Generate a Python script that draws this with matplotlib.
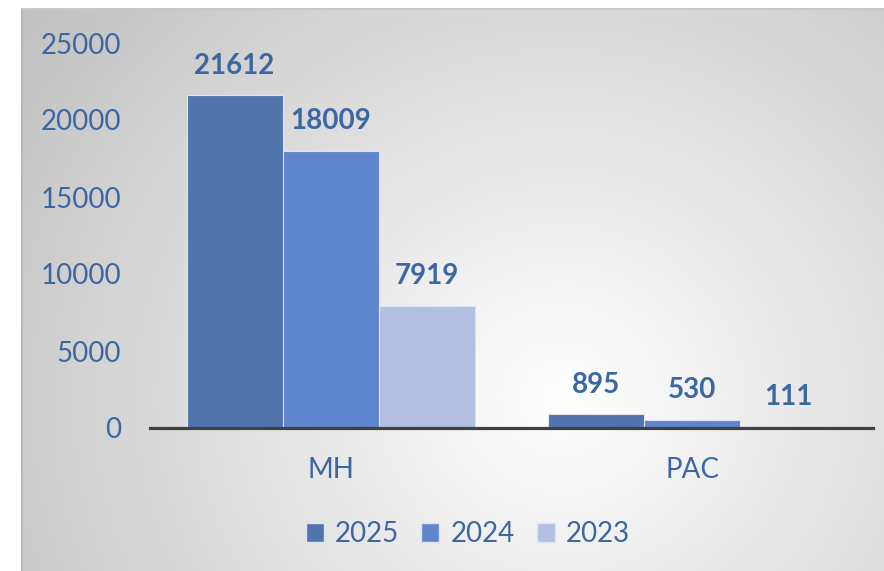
import numpy as np
import matplotlib.pyplot as plt
from matplotlib.patches import Patch

plt.rcParams['font.family'] = ['Lato', 'DejaVu Sans']

categories = ["MH", "PAC"]
years = ["2025", "2024", "2023"]
values = {
    "2025": [21612, 895],
    "2024": [18009, 530],
    "2023": [7919, 111],
}
colors = {"2025": "#5274AC", "2024": "#5F86CC", "2023": "#B2BFE1"}
text_blue = "#3B67A2"

fig = plt.figure(figsize=(8.84, 5.71), dpi=100)

# gradient panel behind the chart
bg = fig.add_axes([21 / 884, 0, 1 - 21 / 884, 1 - 8 / 571], zorder=-10)
h, w = 563, 863
yy, xx = np.mgrid[0:h, 0:w]
d = np.sqrt(((xx - 540) / 1.0) ** 2 + ((yy - 390) / 0.95) ** 2)
g = np.clip(255 - 0.092 * d, 0, 255) / 255.0
bg.imshow(np.dstack([g, g, g]), aspect="auto", extent=[0, 1, 0, 1])
bg.axvline(0.001, color="#B8B8B8", lw=1.5)
bg.axhline(0.998, color="#C8C8C8", lw=1.5)
bg.set_axis_off()

ax = fig.add_axes([150 / 884, 1 - 428 / 571, (873 - 150) / 884, (428 - 43) / 571])
ax.patch.set_alpha(0)

x = np.arange(len(categories))
bw = 0.266
for i, yr in enumerate(years):
    pos = x + (i - 1) * bw
    bars = ax.bar(pos, values[yr], width=bw, color=colors[yr],
                  edgecolor="#DDE3EF", linewidth=0.8, label=yr, zorder=2)
    for b, v in zip(bars, values[yr]):
        ax.annotate(str(v), (b.get_x() + b.get_width() / 2, v),
                    xytext=(0, 12), textcoords="offset points",
                    ha="center", va="bottom", fontsize=20,
                    fontweight="bold", color=text_blue)

ax.set_xlim(-0.5, 1.5)
ax.set_ylim(0, 25000)
ax.set_yticks(range(0, 25001, 5000))
ax.set_xticks(x)
ax.set_xticklabels(categories)
ax.tick_params(axis="y", length=0, pad=21, labelsize=20, labelcolor=text_blue)
ax.tick_params(axis="x", length=0, pad=21, labelsize=20, labelcolor=text_blue)
for s in ax.spines.values():
    s.set_visible(False)
ax.axhline(0, color="#404040", lw=2.3, zorder=3, clip_on=False)

handles = [Patch(facecolor=colors[yr], edgecolor="#DDE3EF", label=yr) for yr in years]
fig.legend(handles=handles, loc="center", bbox_to_anchor=(468 / 884, 1 - 534 / 571),
           ncol=3, frameon=False, fontsize=20, labelcolor=text_blue,
           handlelength=0.65, handleheight=0.65, handletextpad=0.4, columnspacing=0.8)

fig.savefig("out.png", dpi=100)
